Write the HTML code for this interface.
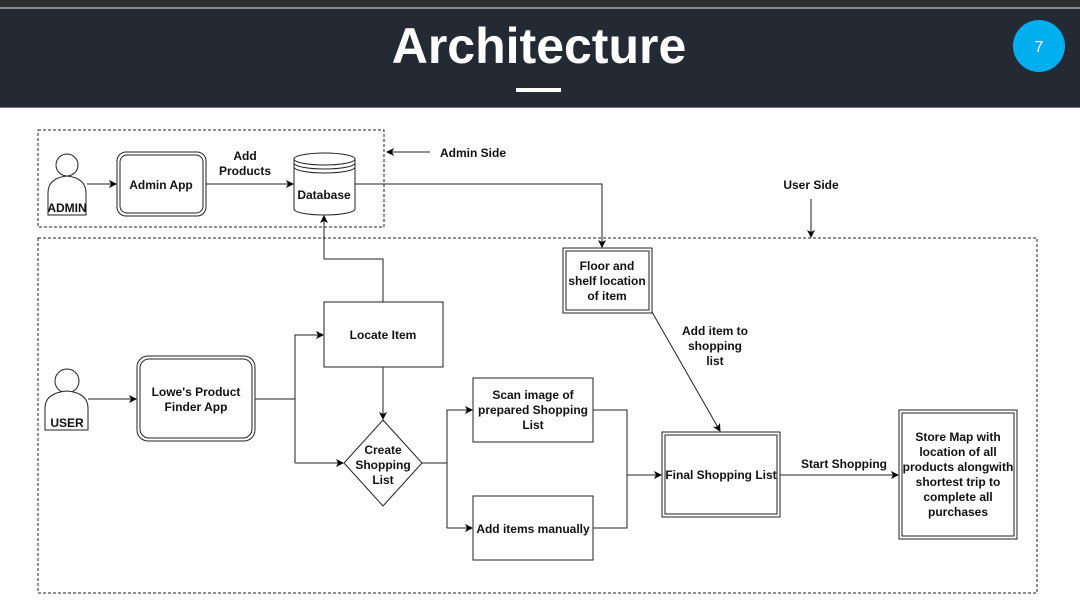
<!DOCTYPE html>
<html><head><meta charset="utf-8"><style>
html,body{margin:0;padding:0;background:#fff;width:1080px;height:607px;overflow:hidden}
svg{display:block}
text{font-family:"Liberation Sans",Arial,sans-serif;font-weight:bold;font-size:12px;fill:#111}
</style></head><body>
<svg width="1080" height="607" viewBox="0 0 1080 607" xmlns="http://www.w3.org/2000/svg">
<defs>
<marker id="a" markerWidth="8" markerHeight="8" refX="7" refY="4" orient="auto" markerUnits="userSpaceOnUse">
<path d="M0,0 L8,4 L0,8 L2,4 z" fill="#000"/></marker>
</defs>
<rect x="0" y="0" width="1080" height="7" fill="#2e2e2e"/>
<rect x="0" y="7" width="1080" height="2" fill="#888"/>
<rect x="0" y="9" width="1080" height="98" fill="#232a34"/>
<rect x="0" y="107" width="1080" height="1" fill="#777"/>
<text x="539" y="63" text-anchor="middle" style="font-size:50px;fill:#fff;font-weight:bold">Architecture</text>
<rect x="516" y="88" width="45" height="4" fill="#fff"/>
<circle cx="1039" cy="46" r="26" fill="#00aeef"/>
<text x="1039" y="52" text-anchor="middle" style="font-size:16px;fill:#fff;font-weight:normal">7</text>

<g fill="none" stroke="#222" stroke-width="1">
<rect x="38" y="130" width="346" height="97" stroke-dasharray="3,2"/>
<rect x="38" y="238" width="999" height="355" stroke-dasharray="3,2"/>
</g>
<g fill="#fff" stroke="#222" stroke-width="1">
<!-- admin person -->
<circle cx="67" cy="165" r="11"/>
<path d="M48,215 L48,193 Q48,178 67,176 Q86,178 86,193 L86,215 Z"/>
<!-- user person -->
<circle cx="67" cy="381" r="12"/>
<path d="M45,430 L45,408 Q45,393 67,391 Q88,393 88,408 L88,430 Z"/>
<!-- admin app -->
<rect x="117" y="152" width="89" height="64" rx="9"/>
<rect x="120" y="155" width="83" height="58" rx="7"/>
<!-- database -->
<path d="M294,159 L294,209 A30.5,6 0 0 0 355,209 L355,159"/>
<ellipse cx="324.5" cy="159" rx="30.5" ry="6"/>
<path d="M294,163 A30.5,6 0 0 0 355,163 M294,167 A30.5,6 0 0 0 355,167" fill="none"/>
<!-- floor -->
<rect x="563" y="248" width="89" height="65"/>
<rect x="566" y="251" width="83" height="59"/>
<!-- locate -->
<rect x="324" y="302" width="119" height="65"/>
<!-- lowes -->
<rect x="137" y="356" width="118" height="85" rx="11"/>
<rect x="140" y="359" width="112" height="79" rx="9"/>
<!-- diamond -->
<path d="M383,420 L422,463 L383,506 L344,463 Z"/>
<rect x="473" y="378" width="120" height="64"/>
<rect x="473" y="496" width="120" height="64"/>
<rect x="662" y="432" width="118" height="85"/>
<rect x="665" y="435" width="112" height="79"/>
<rect x="899" y="410" width="118" height="129"/>
<rect x="902" y="413" width="112" height="123"/>
</g>
<g fill="none" stroke="#222" stroke-width="1">
<path d="M87,184 L116,184" marker-end="url(#a)"/>
<path d="M206,184 L293,184" marker-end="url(#a)"/>
<path d="M355,184 L602,184 L602,247" marker-end="url(#a)"/>
<path d="M430,152 L387,152" marker-end="url(#a)"/>
<path d="M811,199 L811,237" marker-end="url(#a)"/>
<path d="M383,302 L383,259 L324,259 L324,216" marker-end="url(#a)"/>
<path d="M88,399 L136,399" marker-end="url(#a)"/>
<path d="M255,399 L295,399"/>
<path d="M295,463 L295,335 L323,335" marker-end="url(#a)"/>
<path d="M295,463 L343,463" marker-end="url(#a)"/>
<path d="M383,367 L383,419" marker-end="url(#a)"/>
<path d="M422,463 L447,463"/>
<path d="M447,528 L447,410 L472,410" marker-end="url(#a)"/>
<path d="M447,528 L472,528" marker-end="url(#a)"/>
<path d="M593,410 L627,410 L627,528 L593,528"/>
<path d="M627,475 L661,475" marker-end="url(#a)"/>
<path d="M652,312 L720,431" marker-end="url(#a)"/>
<path d="M780,475 L898,475" marker-end="url(#a)"/>
</g>
<g text-anchor="middle">
<text x="67" y="212">ADMIN</text>
<text x="67" y="427">USER</text>
<text x="161" y="189">Admin App</text>
<text x="245" y="160">Add</text>
<text x="245" y="175">Products</text>
<text x="324" y="199">Database</text>
<text x="607" y="270">Floor and</text>
<text x="607" y="285">shelf location</text>
<text x="607" y="300">of item</text>
<text x="383" y="339">Locate Item</text>
<text x="196" y="396">Lowe's Product</text>
<text x="196" y="411">Finder App</text>
<text x="383" y="454">Create</text>
<text x="383" y="469">Shopping</text>
<text x="383" y="484">List</text>
<text x="533" y="399">Scan image of</text>
<text x="533" y="414">prepared Shopping</text>
<text x="533" y="429">List</text>
<text x="533" y="533">Add items manually</text>
<text x="721" y="479">Final Shopping List</text>
<text x="715" y="335">Add item to</text>
<text x="715" y="350">shopping</text>
<text x="715" y="365">list</text>
<text x="844" y="468">Start Shopping</text>
<text x="958" y="441">Store Map with</text>
<text x="958" y="456">location of all</text>
<text x="958" y="471">products alongwith</text>
<text x="958" y="486">shortest trip to</text>
<text x="958" y="501">complete all</text>
<text x="958" y="516">purchases</text>
<text x="811" y="189">User Side</text>
</g>
<text x="440" y="157">Admin Side</text>
</svg>
</body></html>
